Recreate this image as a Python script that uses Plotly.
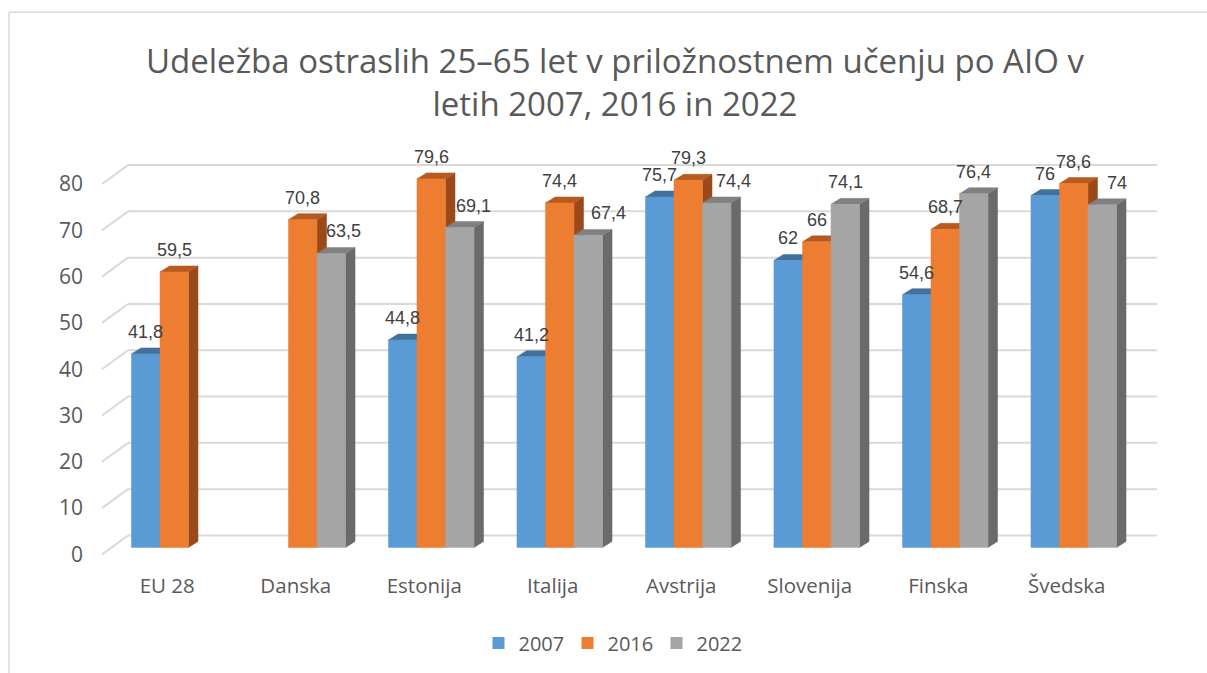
import plotly.graph_objects as go

# ---------------- data ----------------
categories = ["EU 28", "Danska", "Estonija", "Italija", "Avstrija", "Slovenija", "Finska", "Švedska"]
series_names = ["2007", "2016", "2022"]
v2007 = [41.8, None, 44.8, 41.2, 75.7, 62, 54.6, 76]
v2016 = [59.5, 70.8, 79.6, 74.4, 79.3, 66, 68.7, 78.6]
v2022 = [None, 63.5, 69.1, 67.4, 74.4, 74.1, 76.4, 74]
y_ticks = [0, 10, 20, 30, 40, 50, 60, 70, 80]
title_text = "Udeležba ostraslih 25–65 let v priložnostnem učenju po AIO v<br>letih 2007, 2016 in 2022"

# ---------------- style ----------------
front_colors = ["#5B9BD5", "#ED7D31", "#A5A5A5"]
top_colors = ["#41719C", "#B65A1F", "#808080"]
side_colors = ["#3A6591", "#9A4A1A", "#6A6A6A"]
TEXT = "#595959"
LABEL = "#404040"
GRID = "#D9D9D9"
# horizontal nudges (px) of data labels, as placed in the original chart
label_xshift = [
    [0, 0, 0, 0, 0, 0, 0, 0],
    [0, 0, 0, 0, 0, 0, 0, 0],
    [0, 12, 14, 20, 17, 0, 0, 15],
]

# layout geometry (pixels)
W_PX, H_PX = 1207, 673
ML, MR, MT, MB = 110, 69, 140, 113
PW = W_PX - ML - MR          # 1028
PH = H_PX - MT - MB          # 420
Y_RANGE = [-2.5, 88]
X_RANGE = [-0.5, len(categories) - 0.5]
px_per_y = PH / (Y_RANGE[1] - Y_RANGE[0])
px_per_x = PW / (X_RANGE[1] - X_RANGE[0])

BAR_W = 0.222
offsets = [-BAR_W, 0.0, BAR_W]
DX = 9.5 / px_per_x
DY = 6.0 / px_per_y

all_series = [v2007, v2016, v2022]


def faces(values, off):
    side_x, side_y, top_x, top_y, fr_x, fr_y = [], [], [], [], [], []
    for i, v in enumerate(values):
        if v is None:
            continue
        xl = i + off - BAR_W / 2
        xr = i + off + BAR_W / 2
        side_x += [xr, xr + DX, xr + DX, xr, xr, None]
        side_y += [0, DY, v + DY, v, 0, None]
        top_x += [xl, xl + DX, xr + DX, xr, xl, None]
        top_y += [v, v + DY, v + DY, v, v, None]
        fr_x += [xl, xl, xr, xr, xl, None]
        fr_y += [0, v, v, 0, 0, None]
    return (side_x, side_y), (top_x, top_y), (fr_x, fr_y)


fig = go.Figure()
front_traces = []
for s, vals in enumerate(all_series):
    (sx, sy), (tx, ty), (fx, fy) = faces(vals, offsets[s])
    fig.add_trace(go.Scatter(x=sx, y=sy, mode="lines", fill="toself", fillcolor=side_colors[s],
                             line=dict(color=side_colors[s], width=0.5), hoverinfo="skip", showlegend=False))
    fig.add_trace(go.Scatter(x=tx, y=ty, mode="lines", fill="toself", fillcolor=top_colors[s],
                             line=dict(color=top_colors[s], width=0.5), hoverinfo="skip", showlegend=False))
    front_traces.append(go.Scatter(x=fx, y=fy, mode="lines", fill="toself", fillcolor=front_colors[s],
                                   line=dict(color=front_colors[s], width=0.5), hoverinfo="skip",
                                   showlegend=False))
for t in front_traces:
    fig.add_trace(t)

# legend entries
for s, name in enumerate(series_names):
    fig.add_trace(go.Scatter(x=[None], y=[None], mode="markers", name=name,
                             marker=dict(symbol="square", size=13, color=front_colors[s])))

# data labels
annotations = []
for s, vals in enumerate(all_series):
    for i, v in enumerate(vals):
        if v is None:
            continue
        annotations.append(dict(x=i + offsets[s], y=v, xref="x", yref="y", text=f"{v:g}".replace(".", ","),
                                showarrow=False, yanchor="bottom", xanchor="center", yshift=10,
                                xshift=label_xshift[s][i],
                                font=dict(family="Liberation Sans, Arial, sans-serif", size=18, color=LABEL)))


def paper_x(px):
    return (px - ML) / PW


def paper_y(py):
    return (H_PX - MB - py) / PH


# gridlines in pseudo-3D (front-left -> back-left -> back-right)
shapes = []
front_dx_px, front_dy_px = -8, -7
back_dx_px, back_dy_px = 18, 12
right_px = 1157
for t in y_ticks:
    yf = t + front_dy_px / px_per_y
    yb = t + back_dy_px / px_per_y
    shapes.append(dict(type="line", xref="paper", yref="y", x0=paper_x(ML + front_dx_px), y0=yf,
                       x1=paper_x(ML + back_dx_px), y1=yb, line=dict(color=GRID, width=2), layer="below"))
    shapes.append(dict(type="line", xref="paper", yref="y", x0=paper_x(ML + back_dx_px), y0=yb,
                       x1=paper_x(right_px), y1=yb, line=dict(color=GRID, width=2), layer="below"))

# chart border (left & top)
shapes.append(dict(type="line", xref="paper", yref="paper", x0=paper_x(9), y0=paper_y(12),
                   x1=paper_x(9), y1=paper_y(H_PX + 5), line=dict(color=GRID, width=1.5)))
shapes.append(dict(type="line", xref="paper", yref="paper", x0=paper_x(9), y0=paper_y(12),
                   x1=paper_x(W_PX + 5), y1=paper_y(12), line=dict(color=GRID, width=1.5)))

# title
annotations.append(dict(x=paper_x(615), y=paper_y(82), xref="paper", yref="paper", text=title_text,
                        showarrow=False, xanchor="center", yanchor="middle",
                        font=dict(family="Open Sans, sans-serif", size=33, color=TEXT)))

fig.update_layout(
    width=W_PX, height=H_PX,
    margin=dict(l=ML, r=MR, t=MT, b=MB),
    paper_bgcolor="white", plot_bgcolor="white",
    showlegend=True,
    legend=dict(orientation="h", x=paper_x(612), xanchor="center", y=paper_y(643), yanchor="middle",
                font=dict(family="Open Sans, sans-serif", size=20, color=TEXT), itemsizing="constant",
                entrywidth=44, entrywidthmode="pixels"),
    xaxis=dict(range=X_RANGE, tickvals=list(range(len(categories))), ticktext=categories,
               showgrid=False, zeroline=False, showline=False, ticks="",
               tickfont=dict(family="Open Sans, sans-serif", size=20.5, color=TEXT),
               ticklabelshift=-7, ticklabelstandoff=12, fixedrange=True),
    yaxis=dict(range=Y_RANGE, tickvals=y_ticks, showgrid=False, zeroline=False, showline=False, ticks="",
               tickfont=dict(family="Open Sans, sans-serif", size=21, color=TEXT),
               ticklabelshift=7, ticklabelstandoff=26, fixedrange=True),
    annotations=annotations,
    shapes=shapes,
)

fig.write_html("out.html", config={"displayModeBar": False},
               post_script="document.body.style.margin='0';document.body.style.overflow='hidden';")
